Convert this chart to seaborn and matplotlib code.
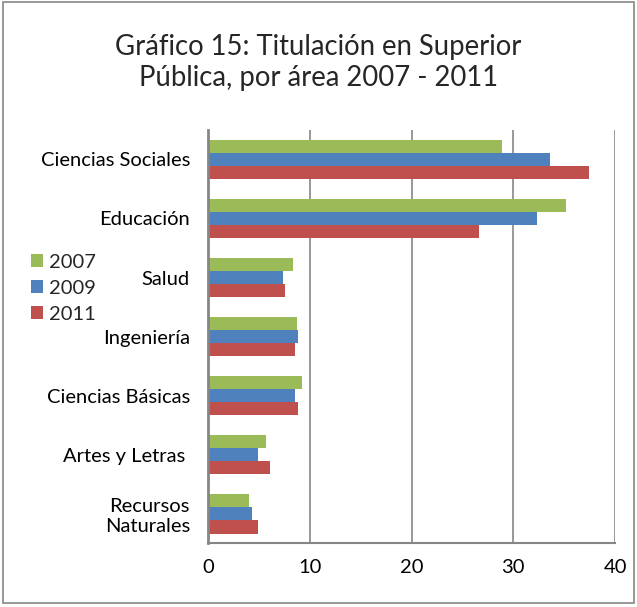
import matplotlib
matplotlib.use("Agg")
import matplotlib.pyplot as plt
import seaborn as sns
import pandas as pd
from matplotlib.patches import Rectangle

categories = ["Ciencias Sociales", "Educación", "Salud", "Ingeniería",
              "Ciencias Básicas", "Artes y Letras ", "Recursos\nNaturales"]
years = ["2007", "2009", "2011"]
v2007 = [28.9, 35.2, 8.4, 8.7, 9.2, 5.7, 4.0]
v2009 = [33.6, 32.3, 7.4, 8.8, 8.6, 4.9, 4.3]
v2011 = [37.4, 26.6, 7.6, 8.6, 8.8, 6.1, 4.9]
colors = ["#9BBB59", "#4F81BD", "#C0504D"]

rows = []
for yr, vals in zip(years, [v2007, v2009, v2011]):
    for c, v in zip(categories, vals):
        rows.append({"area": c, "year": yr, "value": v})
df = pd.DataFrame(rows)

sns.set_style("white")
plt.rcParams["font.family"] = ["Lato", "DejaVu Sans"]

fig = plt.figure(figsize=(6.37, 6.07), dpi=100)
ax = fig.add_axes([0.3265, 0.105, 0.639, 0.681])

sns.barplot(data=df, y="area", x="value", hue="year", order=categories,
            hue_order=years, palette=colors, orient="h", width=0.67,
            saturation=1, ax=ax, edgecolor="none")

ax.set_xlim(0, 40)
ax.set_ylim(6.5, -0.5)
ax.set_xticks([0, 10, 20, 30, 40])
ax.xaxis.grid(True, color="#868686", linewidth=1.2)
ax.set_axisbelow(True)
ax.set_xlabel("")
ax.set_ylabel("")
for s in ["top", "right"]:
    ax.spines[s].set_visible(False)
ax.spines["left"].set_color("#868686")
ax.spines["left"].set_linewidth(2)
ax.spines["bottom"].set_color("#868686")
ax.spines["bottom"].set_linewidth(1.5)
ax.tick_params(axis="x", labelsize=14.5, length=0, pad=11, colors="black")
ax.tick_params(axis="y", labelsize=14.5, length=0, pad=13, colors="black")
for lab in ax.get_yticklabels():
    lab.set_horizontalalignment("right")

leg = ax.legend(loc="center left", bbox_to_anchor=(0.033, 0.525),
                bbox_transform=fig.transFigure, frameon=False,
                fontsize=14.5, handlelength=0.6, handleheight=0.6,
                handletextpad=0.3, labelspacing=0.45, borderpad=0)

fig.text(0.5, 0.897, "Gráfico 15: Titulación en Superior\nPública, por área 2007 - 2011",
         ha="center", va="center", fontsize=19.8, linespacing=1.25)

fig.patches.append(Rectangle((0.004, 0.006), 0.992, 0.99, transform=fig.transFigure,
                             fill=False, edgecolor="#868686", linewidth=1.2))

fig.savefig("out.png", dpi=100)
